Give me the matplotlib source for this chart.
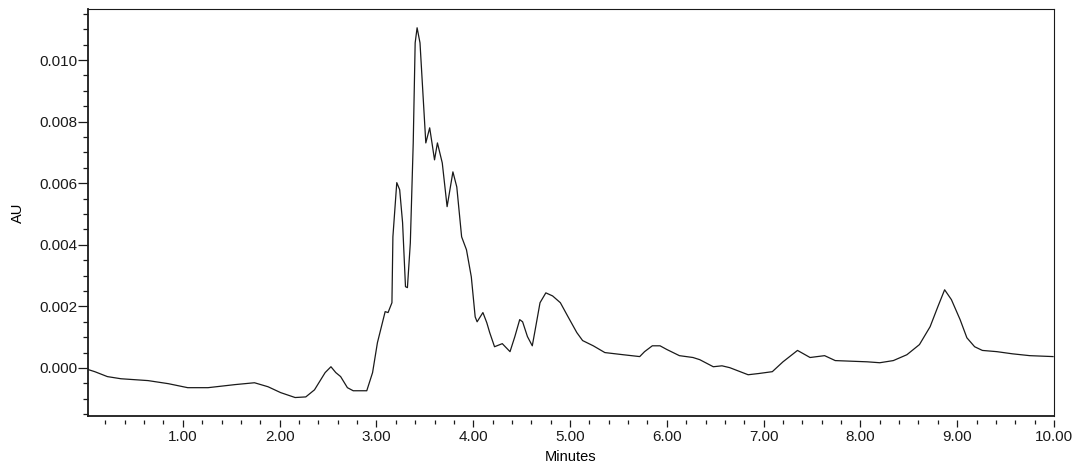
import matplotlib
matplotlib.use("Agg")
import matplotlib.pyplot as plt
from matplotlib.ticker import MultipleLocator, FormatStrFormatter

plt.rcParams['font.family'] = ['Liberation Sans', 'DejaVu Sans']

# Retention time (minutes)
minutes = [0.02, 0.09, 0.22, 0.36, 0.64, 0.85, 1.05, 1.26, 1.54, 1.74, 1.88, 2.01,
           2.16, 2.27, 2.36, 2.47, 2.53, 2.58, 2.63, 2.70, 2.76, 2.83, 2.90, 2.96,
           3.01, 3.09, 3.12, 3.16, 3.17, 3.21, 3.24, 3.27, 3.30, 3.32, 3.35, 3.38,
           3.40, 3.42, 3.45, 3.48, 3.51, 3.55, 3.58, 3.60, 3.63, 3.68, 3.73, 3.79,
           3.83, 3.88, 3.93, 3.98, 4.02, 4.04, 4.10, 4.14, 4.17, 4.22, 4.30, 4.38,
           4.43, 4.48, 4.51, 4.56, 4.61, 4.64, 4.69, 4.75, 4.82, 4.90, 4.98, 5.07,
           5.13, 5.24, 5.36, 5.55, 5.72, 5.77, 5.85, 5.93, 6.00, 6.13, 6.27, 6.34,
           6.48, 6.57, 6.65, 6.84, 6.95, 7.09, 7.20, 7.35, 7.48, 7.63, 7.74, 8.07,
           8.20, 8.34, 8.48, 8.61, 8.72, 8.80, 8.87, 8.94, 9.03, 9.10, 9.18, 9.26,
           9.41, 9.57, 9.75, 9.99]

# Absorbance (AU)
absorbance = [-0.00005, -0.00012, -0.00028, -0.00035, -0.00041, -0.00051, -0.00064,
              -0.00064, -0.00054, -0.00048, -0.00061, -0.00080, -0.00096, -0.00094,
              -0.00071, -0.00015, 0.00004, -0.00015, -0.00028, -0.00064, -0.00074,
              -0.00074, -0.00074, -0.00015, 0.00082, 0.00183, 0.00180, 0.00212,
              0.00426, 0.00602, 0.00579, 0.00472, 0.00264, 0.00261, 0.00406, 0.00731,
              0.01056, 0.01105, 0.01056, 0.00893, 0.00731, 0.00780, 0.00718, 0.00676,
              0.00731, 0.00666, 0.00524, 0.00637, 0.00588, 0.00426, 0.00384, 0.00296,
              0.00166, 0.00150, 0.00180, 0.00147, 0.00115, 0.00069, 0.00079, 0.00053,
              0.00102, 0.00157, 0.00150, 0.00102, 0.00072, 0.00124, 0.00212, 0.00244,
              0.00234, 0.00212, 0.00166, 0.00115, 0.00089, 0.00072, 0.00050, 0.00043,
              0.00037, 0.00053, 0.00072, 0.00072, 0.00060, 0.00040, 0.00034, 0.00027,
              0.00004, 0.00007, 0.00001, -0.00022, -0.00018, -0.00012, 0.00020,
              0.00057, 0.00034, 0.00040, 0.00024, 0.00020, 0.00017, 0.00024, 0.00043,
              0.00076, 0.00134, 0.00199, 0.00254, 0.00222, 0.00157, 0.00098, 0.00069,
              0.00057, 0.00053, 0.00046, 0.00040, 0.00037]

x_limits = (0.02, 10.0)
y_limits = (-0.00156, 0.01166)

fig = plt.figure(figsize=(10.79, 4.68), dpi=100)
ax = fig.add_axes([88 / 1079, 1 - 416 / 468, (1054 - 88) / 1079, (416 - 9) / 468])

ax.plot(minutes, absorbance, color='#1a1a1a', linewidth=0.9)

ax.set_xlim(*x_limits)
ax.set_ylim(*y_limits)

# x axis: ticks detached slightly below the frame
ax.xaxis.set_major_locator(MultipleLocator(1.0))
ax.xaxis.set_minor_locator(MultipleLocator(0.2))
ax.xaxis.set_major_formatter(FormatStrFormatter('%.2f'))
ax.spines['bottom'].set_position(('outward', 2.9))
ax.spines['bottom'].set_visible(False)
ax.plot([0, 1], [0, 0], transform=ax.transAxes, color='#1a1a1a', linewidth=1.3,
        clip_on=False, solid_capstyle='projecting')

ax.yaxis.set_major_locator(MultipleLocator(0.002))
ax.yaxis.set_minor_locator(MultipleLocator(0.0005))
ax.yaxis.set_major_formatter(FormatStrFormatter('%.3f'))

ax.tick_params(axis='x', which='major', direction='out', length=5, width=0.9,
               pad=2.2, labelsize=11, colors='#1a1a1a')
ax.tick_params(axis='x', which='minor', direction='out', length=2.9, width=0.9,
               colors='#1a1a1a')
ax.tick_params(axis='y', which='major', direction='out', length=7.2, width=0.9,
               pad=0.7, labelsize=11, colors='#1a1a1a')
ax.tick_params(axis='y', which='minor', direction='out', length=3.6, width=0.9,
               colors='#1a1a1a')

ax.spines['left'].set_linewidth(1.3)
ax.spines['left'].set_color('#1a1a1a')
for s in ('top', 'right'):
    ax.spines[s].set_linewidth(0.8)
    ax.spines[s].set_color('#1a1a1a')

ax.set_xlabel('Minutes', fontsize=10.5, labelpad=4)
ax.set_ylabel('AU', fontsize=10.5, labelpad=10)

fig.savefig('out.png', dpi=100)
